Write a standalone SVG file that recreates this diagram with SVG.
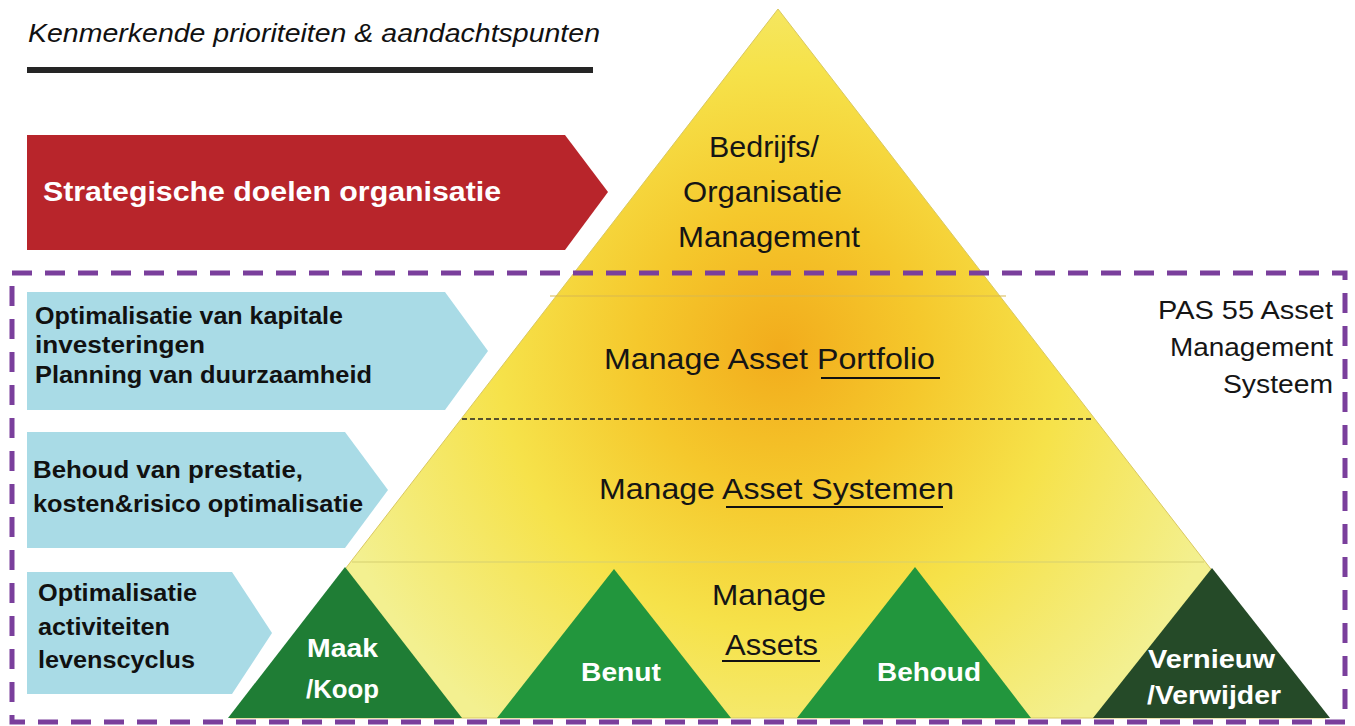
<svg xmlns="http://www.w3.org/2000/svg" width="1355" height="726" viewBox="0 0 1355 726">
<defs>
<radialGradient id="pyr" gradientUnits="userSpaceOnUse" cx="780" cy="350" r="470">
<stop offset="0" stop-color="#f2ac1c"/>
<stop offset="0.3" stop-color="#f5c82c"/>
<stop offset="0.6" stop-color="#f6e24a"/>
<stop offset="1" stop-color="#f3f090"/>
</radialGradient>
<style>
.title{font-family:"Liberation Sans",Arial,sans-serif;font-style:italic;font-size:26.5px;fill:#111}
.lbl{font-family:"Liberation Sans",Arial,sans-serif;font-size:29.5px;fill:#151515}
.pas{font-family:"Liberation Sans",Arial,sans-serif;font-size:25.5px;fill:#151515}
.blue{fill:#a9dbe6}
.btxt{font-family:"Liberation Sans",Arial,sans-serif;font-weight:bold;font-size:23px;fill:#111}
.wtxt{font-family:"Liberation Sans",Arial,sans-serif;font-weight:bold;font-size:26.5px;fill:#fff}
.ul{stroke:#111;stroke-width:2}
</style>
</defs>
<rect width="1355" height="726" fill="#ffffff"/>

<g id="title">
<text class="title" x="28" y="42" textLength="572" lengthAdjust="spacingAndGlyphs">Kenmerkende prioriteiten &amp; aandachtspunten</text>
<rect x="27" y="67" width="566" height="6" fill="#252525"/>
</g>

<g id="pyramid">
<polygon points="778,9 230,718 1326,718" fill="url(#pyr)" stroke="#d9c860" stroke-width="1"/>
<line x1="550" y1="296" x2="1006" y2="296" stroke="#d8b850" stroke-width="1.2"/>
<line x1="462" y1="419" x2="1094" y2="419" stroke="#222" stroke-width="1.6" stroke-dasharray="5 3"/>
<line x1="352" y1="562" x2="1204" y2="562" stroke="#d6cf70" stroke-width="1.2"/>
</g>

<g id="level-top">
<text class="lbl" x="709" y="157" textLength="110" lengthAdjust="spacingAndGlyphs">Bedrijfs/</text>
<text class="lbl" x="683" y="202" textLength="159" lengthAdjust="spacingAndGlyphs">Organisatie</text>
<text class="lbl" x="678" y="247" textLength="182" lengthAdjust="spacingAndGlyphs">Management</text>
</g>

<g id="level-portfolio">
<text class="lbl" x="604" y="369" textLength="331" lengthAdjust="spacingAndGlyphs">Manage Asset  Portfolio</text>
<line class="ul" x1="821" y1="378" x2="940" y2="378"/>
</g>

<g id="level-systems">
<text class="lbl" x="599" y="499" textLength="355" lengthAdjust="spacingAndGlyphs">Manage Asset Systemen</text>
<line class="ul" x1="726" y1="507" x2="943" y2="507"/>
</g>

<g id="level-assets">
<text class="lbl" x="712" y="605" textLength="114" lengthAdjust="spacingAndGlyphs">Manage</text>
<text class="lbl" x="725" y="655" textLength="93" lengthAdjust="spacingAndGlyphs">Assets</text>
<line class="ul" x1="722" y1="661" x2="820" y2="661"/>
</g>

<g id="tri-maak">
<polygon points="345,567 228,718 462,718" fill="#1f7d35"/>
<text class="wtxt" x="307" y="657" textLength="71" lengthAdjust="spacingAndGlyphs">Maak</text>
<text class="wtxt" x="306" y="698" textLength="73" lengthAdjust="spacingAndGlyphs">/Koop</text>
</g>
<g id="tri-benut">
<polygon points="614,569 497,718 731,718" fill="#22963d"/>
<text class="wtxt" x="581" y="681" textLength="80" lengthAdjust="spacingAndGlyphs">Benut</text>
</g>
<g id="tri-behoud">
<polygon points="915,567 797,718 1031,718" fill="#22963d"/>
<text class="wtxt" x="877" y="681" textLength="104" lengthAdjust="spacingAndGlyphs">Behoud</text>
</g>
<g id="tri-vernieuw">
<polygon points="1212,568 1093,718 1330,718" fill="#254a28"/>
<text class="wtxt" x="1148" y="668" textLength="127" lengthAdjust="spacingAndGlyphs">Vernieuw</text>
<text class="wtxt" x="1147" y="704" textLength="134" lengthAdjust="spacingAndGlyphs">/Verwijder</text>
</g>

<g id="arrow-strategic">
<polygon points="27,135 565,135 608,192 565,250 27,250" fill="#b8252b"/>
<text x="43" y="201" font-family="Liberation Sans, Arial, sans-serif" font-weight="bold" font-size="28.5" fill="#fff" textLength="458" lengthAdjust="spacingAndGlyphs">Strategische doelen organisatie</text>
</g>

<g id="arrow-capital">
<polygon class="blue" points="27,292 445,292 488,351 445,410 27,410"/>
<text class="btxt" x="35" y="324" textLength="308" lengthAdjust="spacingAndGlyphs">Optimalisatie van kapitale</text>
<text class="btxt" x="35" y="353" textLength="170" lengthAdjust="spacingAndGlyphs">investeringen</text>
<text class="btxt" x="35" y="383" textLength="337" lengthAdjust="spacingAndGlyphs">Planning van duurzaamheid</text>
</g>

<g id="arrow-performance">
<polygon class="blue" points="27,432 345,432 388,490 345,548 27,548"/>
<text class="btxt" x="33" y="478" textLength="270" lengthAdjust="spacingAndGlyphs">Behoud van prestatie,</text>
<text class="btxt" x="33" y="512" textLength="330" lengthAdjust="spacingAndGlyphs">kosten&amp;risico optimalisatie</text>
</g>

<g id="arrow-lifecycle">
<polygon class="blue" points="27,572 232,572 272,633 232,694 27,694"/>
<text class="btxt" x="38" y="601" textLength="159" lengthAdjust="spacingAndGlyphs">Optimalisatie</text>
<text class="btxt" x="38" y="635" textLength="132" lengthAdjust="spacingAndGlyphs">activiteiten</text>
<text class="btxt" x="38" y="668" textLength="157" lengthAdjust="spacingAndGlyphs">levenscyclus</text>
</g>

<g id="pas55">
<rect x="12" y="273" width="1333" height="449" fill="none" stroke="#7a3f9c" stroke-width="5" stroke-dasharray="20 13"/>
<text class="pas" x="1158" y="319" textLength="175" lengthAdjust="spacingAndGlyphs">PAS 55 Asset</text>
<text class="pas" x="1170" y="356" textLength="163" lengthAdjust="spacingAndGlyphs">Management</text>
<text class="pas" x="1223" y="393" textLength="110" lengthAdjust="spacingAndGlyphs">Systeem</text>
</g>
</svg>
